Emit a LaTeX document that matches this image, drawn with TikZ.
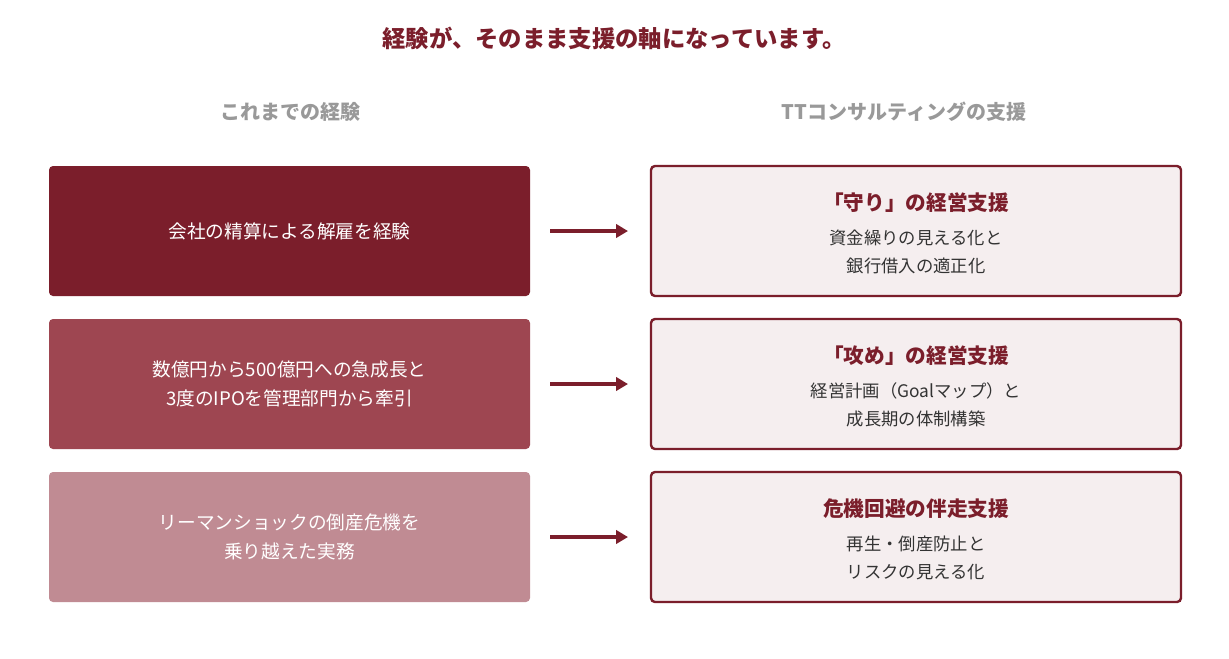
\documentclass[tikz,border=0pt]{standalone}
\usepackage{fontspec}
\setmainfont{Noto Sans CJK JP}
\usetikzlibrary{arrows.meta}
\definecolor{dred}{HTML}{7B1E2B}
\definecolor{mred}{HTML}{9E4651}
\definecolor{lred}{HTML}{C08B93}
\definecolor{pinkbg}{HTML}{F5EEEF}
\definecolor{hgray}{HTML}{999999}
\definecolor{txt}{HTML}{333333}
\begin{document}
\begin{tikzpicture}[x=0.75pt,y=-0.75pt,
  lbox/.style={rounded corners=3pt,text=white,font=\fontsize{14}{22}\selectfont,align=center},
  rbox/.style={rounded corners=3pt,draw=dred,line width=1.8pt,fill=pinkbg},
  arr/.style={draw=dred,line width=3pt,-{Triangle[length=9pt,width=10pt]}},
  rtitle/.style={text=dred,font=\bfseries\fontsize{15.5}{20}\selectfont},
  rtext/.style={text=txt,font=\fontsize{13}{21}\selectfont,align=center}]
\useasboundingbox (0,0) rectangle (1229,658);
\fill[white] (0,0) rectangle (1229,658);
\node[text=dred,font=\bfseries\fontsize{17.5}{20}\selectfont] (title) at (614,38) {経験が、そのまま支援の軸になっています。};
\node[text=hgray,font=\bfseries\fontsize{15}{18}\selectfont] (hl) at (290,112) {これまでの経験};
\node[text=hgray,font=\bfseries\fontsize{15}{18}\selectfont] (hr) at (904,112) {TTコンサルティングの支援};
% left boxes
\fill[dred,rounded corners=3pt] (49,166) rectangle (530,296);
\node[lbox] (l1) at (289.5,231) {会社の精算による解雇を経験};
\fill[mred,rounded corners=3pt] (49,319) rectangle (530,449);
\node[lbox] (l2) at (289.5,384) {数億円から500億円への急成長と\\3度のIPOを管理部門から牽引};
\fill[lred,rounded corners=3pt] (49,472) rectangle (530,602);
\node[lbox] (l3) at (289.5,537) {リーマンショックの倒産危機を\\乗り越えた実務};
% right boxes
\draw[rbox] (651,166) rectangle (1181,296);
\node[rtitle] (r1t) at (916,203) {「守り」の経営支援};
\node[rtext] (r1) at (916,252) {資金繰りの見える化と\\銀行借入の適正化};
\draw[rbox] (651,319) rectangle (1181,449);
\node[rtitle] (r2t) at (916,356) {「攻め」の経営支援};
\node[rtext] (r2) at (916,405) {経営計画（Goalマップ）と\\成長期の体制構築};
\draw[rbox] (651,472) rectangle (1181,602);
\node[rtitle] (r3t) at (916,509) {危機回避の伴走支援};
\node[rtext] (r3) at (916,558) {再生・倒産防止と\\リスクの見える化};
% arrows
\coordinate (a1) at (550,231); \coordinate (b1) at (628,231);
\coordinate (a2) at (550,384); \coordinate (b2) at (628,384);
\coordinate (a3) at (550,537); \coordinate (b3) at (628,537);
\draw[arr] (a1) -- (b1);
\draw[arr] (a2) -- (b2);
\draw[arr] (a3) -- (b3);
\end{tikzpicture}
\end{document}
